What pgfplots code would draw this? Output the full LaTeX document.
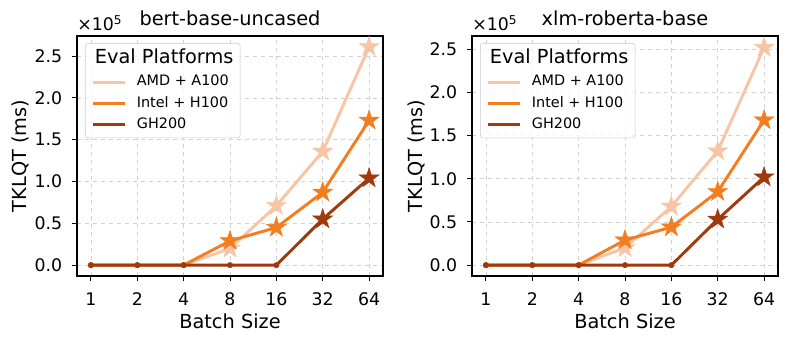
\documentclass[border=0pt]{standalone}
\usepackage{fontspec}
\setmainfont{DejaVu Sans}
\usepackage{pgfplots}
\pgfplotsset{compat=1.18}
\definecolor{amdc}{HTML}{F8C4A6}
\definecolor{intc}{HTML}{F27E22}
\definecolor{ghc}{HTML}{9E3A0C}

% filled five-point star, like matplotlib's '*'
\pgfdeclareplotmark{fstar}{%
  \pgfpathmoveto{\pgfpointpolar{90}{\pgfplotmarksize}}%
  \pgfpathlineto{\pgfpointpolar{126}{0.382\pgfplotmarksize}}%
  \pgfpathlineto{\pgfpointpolar{162}{\pgfplotmarksize}}%
  \pgfpathlineto{\pgfpointpolar{198}{0.382\pgfplotmarksize}}%
  \pgfpathlineto{\pgfpointpolar{234}{\pgfplotmarksize}}%
  \pgfpathlineto{\pgfpointpolar{270}{0.382\pgfplotmarksize}}%
  \pgfpathlineto{\pgfpointpolar{306}{\pgfplotmarksize}}%
  \pgfpathlineto{\pgfpointpolar{342}{0.382\pgfplotmarksize}}%
  \pgfpathlineto{\pgfpointpolar{18}{\pgfplotmarksize}}%
  \pgfpathlineto{\pgfpointpolar{54}{0.382\pgfplotmarksize}}%
  \pgfpathclose\pgfusepathqfillstroke}

\pgfplotsset{
  ln/.style={line width=2.2pt,no marks},
  zero/.style={only marks,mark=*,mark size=2pt,forget plot},
  st/.style={only marks,mark=fstar,mark size=7.8pt,forget plot,line width=0.4pt},
  panel/.style={
    scale only axis,width=229.5pt,height=180pt,clip mode=individual,
    xmin=-0.3,xmax=6.3,xtick={0,...,6},xticklabels={1,2,4,8,16,32,64},
    ytick={0,0.5,...,2.5},
    /pgf/number format/assume math mode=true,
    tick label style={font=\fontsize{13}{15}\selectfont,inner sep=0pt},
    xticklabel style={anchor=base,yshift=-18.75pt},
    yticklabel style={anchor=east,xshift=-7.3pt,/pgf/number format/.cd,fixed,fixed zerofill,precision=1},
    xlabel={Batch Size},ylabel={TKLQT (ms)},
    every axis x label/.style={at={([yshift=-39pt]rel axis cs:0.5,0)},anchor=base,font=\fontsize{14.5}{16}\selectfont,inner sep=0pt},
    every axis y label/.style={at={([xshift=-37.5pt]rel axis cs:0,0.5)},rotate=90,anchor=base,font=\fontsize{14.5}{16}\selectfont,inner sep=0pt},
    every axis title/.style={at={([yshift=7.5pt]rel axis cs:0.5,1)},anchor=base,font=\fontsize{14.5}{16}\selectfont,inner sep=0pt},
    grid=major,major grid style={dashed,gray!35,line width=0.5pt},
    axis line style={line width=0.8pt},
    tick style={black,line width=0.7pt},tick align=outside,
    xtick pos=bottom,ytick pos=left,
    major tick length=3.6pt,
    legend cell align=left,
    legend style={at={(rel axis cs:0,1)},anchor=north west,xshift=6pt,yshift=-5.25pt,
      draw=gray!40,rounded corners=2pt,fill=white,fill opacity=0.8,text opacity=1,
      font=\fontsize{10.8}{12}\selectfont,row sep=5.5pt,inner xsep=5pt,inner ysep=4.5pt,
      nodes={inner sep=0pt,text height=8pt,text depth=2.5pt}},
    legend image code/.code={\draw[#1,line width=2.2pt] (0pt,0pt) -- (24pt,0pt); \path (31.5pt,0pt);},
  },
}

\newcommand{\legtitle}{\addlegendimage{empty legend}
  \addlegendentry[text height=11pt,text depth=3pt]{\hspace{-31.5pt}\fontsize{14.5}{16}\selectfont Eval Platforms}}
\newcommand{\scalelabel}{\node[anchor=base west,inner sep=0pt,font=\fontsize{13}{15}\selectfont]
  at ([yshift=4pt]rel axis cs:0,1) {×10\textsuperscript{5}};}

\begin{document}
\begin{tikzpicture}
\begin{axis}[panel,name=ax1,title={bert-base-uncased},ymin=-0.13,ymax=2.74]
\legtitle
\addplot[ln,amdc] coordinates {(0,0)(1,0)(2,0)(3,0.20)(4,0.71)(5,1.36)(6,2.61)};
\addlegendentry{AMD + A100}
\addplot[zero,amdc] coordinates {(0,0)(1,0)(2,0)};
\addplot[st,amdc] coordinates {(3,0.20)(4,0.71)(5,1.36)(6,2.61)};
\addplot[ln,intc] coordinates {(0,0)(1,0)(2,0)(3,0.29)(4,0.45)(5,0.87)(6,1.73)};
\addlegendentry{Intel + H100}
\addplot[zero,intc] coordinates {(0,0)(1,0)(2,0)};
\addplot[st,intc] coordinates {(3,0.29)(4,0.45)(5,0.87)(6,1.73)};
\addplot[ln,ghc] coordinates {(0,0)(1,0)(2,0)(3,0)(4,0)(5,0.55)(6,1.04)};
\addlegendentry{GH200}
\addplot[zero,ghc] coordinates {(0,0)(1,0)(2,0)(3,0)(4,0)};
\addplot[st,ghc] coordinates {(5,0.55)(6,1.04)};
\scalelabel
\end{axis}
\begin{axis}[panel,name=ax2,at={(296.25pt,0pt)},title={xlm-roberta-base},ymin=-0.126,ymax=2.654]
\legtitle
\addplot[ln,amdc] coordinates {(0,0)(1,0)(2,0)(3,0.20)(4,0.68)(5,1.32)(6,2.52)};
\addlegendentry{AMD + A100}
\addplot[zero,amdc] coordinates {(0,0)(1,0)(2,0)};
\addplot[st,amdc] coordinates {(3,0.20)(4,0.68)(5,1.32)(6,2.52)};
\addplot[ln,intc] coordinates {(0,0)(1,0)(2,0)(3,0.29)(4,0.44)(5,0.85)(6,1.68)};
\addlegendentry{Intel + H100}
\addplot[zero,intc] coordinates {(0,0)(1,0)(2,0)};
\addplot[st,intc] coordinates {(3,0.29)(4,0.44)(5,0.85)(6,1.68)};
\addplot[ln,ghc] coordinates {(0,0)(1,0)(2,0)(3,0)(4,0)(5,0.53)(6,1.02)};
\addlegendentry{GH200}
\addplot[zero,ghc] coordinates {(0,0)(1,0)(2,0)(3,0)(4,0)};
\addplot[st,ghc] coordinates {(5,0.53)(6,1.02)};
\scalelabel
\end{axis}
\pgfresetboundingbox
\path ([shift={(-57.75pt,-49.5pt)}]ax1.south west) rectangle ([shift={(8.25pt,27pt)}]ax2.north east);
\end{tikzpicture}
\end{document}
